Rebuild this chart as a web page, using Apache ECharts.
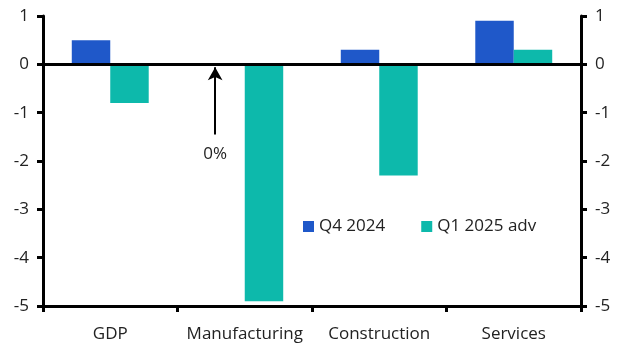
<!DOCTYPE html>
<html><head><meta charset="utf-8">
<script src="https://cdn.jsdelivr.net/npm/echarts@6/dist/echarts.min.js"></script>
<style>html,body{margin:0;padding:0;background:#fff}#c{width:631px;height:361px}</style>
</head><body><div id="c"></div>
<script>
const categories = ['GDP', 'Manufacturing', 'Construction', 'Services'];
const q4_2024 = [0.5, 0, 0.3, 0.9];
const q1_2025 = [-0.8, -4.9, -2.3, 0.3];
const seriesNames = ['Q4 2024', 'Q1 2025 adv'];
const yMin = -5, yMax = 1, yStep = 1;
const annotation = { x: 1.28, yFrom: -1.45, yTo: -0.06, text: '0%' };

const FONT = 'Open Sans';
const FS = 17;
const chart = echarts.init(document.getElementById('c'));
const yAxisBase = {
  type: 'value', min: yMin, max: yMax, interval: yStep,
  axisLine: { show: true, lineStyle: { color: '#000', width: 3 } },
  axisTick: { show: true, length: 6, lineStyle: { color: '#000', width: 3 } },
  axisLabel: { color: '#222', fontSize: FS, fontFamily: FONT, margin: 14 },
  splitLine: { show: false }
};
chart.setOption({
  animation: false,
  grid: { left: 43, right: 50, top: 16, bottom: 55, containLabel: false },
  legend: {
    data: seriesNames, left: 298, top: 213, icon: 'rect', itemWidth: 11, itemHeight: 11,
    itemGap: 36, itemStyle: { borderWidth: 0 }, textStyle: { color: '#222', fontSize: FS, fontFamily: FONT }
  },
  xAxis: [{
    type: 'category', data: categories, boundaryGap: true,
    axisLine: { onZero: false, lineStyle: { color: '#000', width: 3 } },
    axisTick: { show: true, alignWithLabel: false, length: 6, lineStyle: { color: '#000', width: 3 } },
    axisLabel: { color: '#222', fontSize: FS, fontFamily: FONT, margin: 20, interval: 0 }
  }, {
    type: 'value', min: 0, max: 4, show: false
  }],
  yAxis: [
    Object.assign({}, yAxisBase, { position: 'left' }),
    Object.assign({}, yAxisBase, { position: 'right' })
  ],
  series: [
    {
      name: seriesNames[0], type: 'bar', data: q4_2024, barWidth: '28.6%', barGap: '0%',
      itemStyle: { color: '#1f58c9' },
      markLine: {
        silent: true, symbol: ['none', 'none'],
        lineStyle: { color: '#000', width: 3, type: 'solid' },
        label: { show: false },
        data: [{ yAxis: 0 }]
      }
    },
    {
      name: seriesNames[1], type: 'bar', data: q1_2025, barWidth: '28.6%', barGap: '0%',
      itemStyle: { color: '#0db9ab' }
    },
    {
      type: 'line', xAxisIndex: 1, yAxisIndex: 0, data: [], silent: true,
      markLine: {
        silent: true, symbol: ['none', 'arrow'], symbolSize: [11, 13],
        lineStyle: { color: '#000', width: 2, type: 'solid' },
        label: { show: true, position: 'start', formatter: annotation.text, color: '#222', fontSize: FS, fontFamily: FONT, distance: 11 },
        data: [[{ coord: [annotation.x, annotation.yFrom] }, { coord: [annotation.x, annotation.yTo] }]]
      }
    }
  ]
});
</script></body></html>
